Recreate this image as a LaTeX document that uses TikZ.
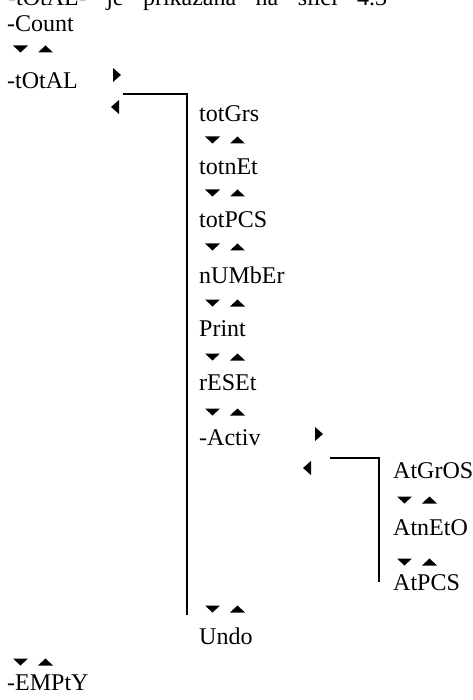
\documentclass[tikz,border=0pt]{standalone}
\usepackage{fontspec}
\setmainfont{Liberation Serif}
\begin{document}
\begin{tikzpicture}[x=1pt,y=-1pt,
  lbl/.style={anchor=base west,inner sep=0pt,font=\fontsize{24}{28}\selectfont},
  wire/.style={line width=1.6pt},
  updown/.pic={
    \fill (0,-3.5) -- (15,-3.5) -- (7.5,3.5) -- cycle;
    \fill (25,3.5) -- (40,3.5) -- (32.5,-3.5) -- cycle;},
  enterkey/.pic={\fill (0,-7) -- (0,7) -- (8,0) -- cycle;},
  backkey/.pic={\fill (8,-7) -- (8,7) -- (0,0) -- cycle;}]
\useasboundingbox (0,0) rectangle (472,700);
\clip (0,0) rectangle (472,700);

% running text above the menu tree
\node[lbl] (intro) at (8,6) {\makebox[379pt][s]{-tOtAL- je prikazana na slici 4.3}};

% main menu
\node[lbl] (count) at (7,32) {-Count};
\pic at (13,49) {updown};
\node[lbl] (total) at (7,89) {-tOtAL};
\pic at (113,75) {enterkey};
\pic at (111,107) {backkey};

% -tOtAL submenu
\node[lbl] (totgrs) at (199,122) {totGrs};
\pic at (205,140) {updown};
\node[lbl] (totnet) at (199,175) {totnEt};
\pic at (205,193) {updown};
\node[lbl] (totpcs) at (199,228) {totPCS};
\pic at (205,247) {updown};
\node[lbl] (number) at (199,283) {nUMbEr};
\pic at (205,303) {updown};
\node[lbl] (print) at (199,336) {Print};
\pic at (205,357) {updown};
\node[lbl] (reset) at (199,390) {rESEt};
\pic at (205,412) {updown};
\node[lbl] (activ) at (199,445) {-Activ};
\pic at (315,434) {enterkey};
\pic at (303,468) {backkey};

% -Activ submenu
\node[lbl] (atgros) at (393,478) {AtGrOS};
\pic at (397,500) {updown};
\node[lbl] (atneto) at (393,535) {AtnEtO};
\pic at (397,562) {updown};
\node[lbl] (atpcs) at (393,590) {AtPCS};

\pic at (205,609) {updown};
\node[lbl] (undo) at (199,644) {Undo};

\pic at (13,662) {updown};
\node[lbl] (empty) at (7,690) {-EMPtY};

% brackets joining each menu to its submenu
\coordinate (ta) at (123,94);
\coordinate (tb) at (187,94);
\coordinate (tc) at (187,615);
\draw[wire] (ta) -- (tb) -- (tc);
\coordinate (aa) at (330,458);
\coordinate (ab) at (379,458);
\coordinate (ac) at (379,582);
\draw[wire] (aa) -- (ab) -- (ac);
\end{tikzpicture}
\end{document}
